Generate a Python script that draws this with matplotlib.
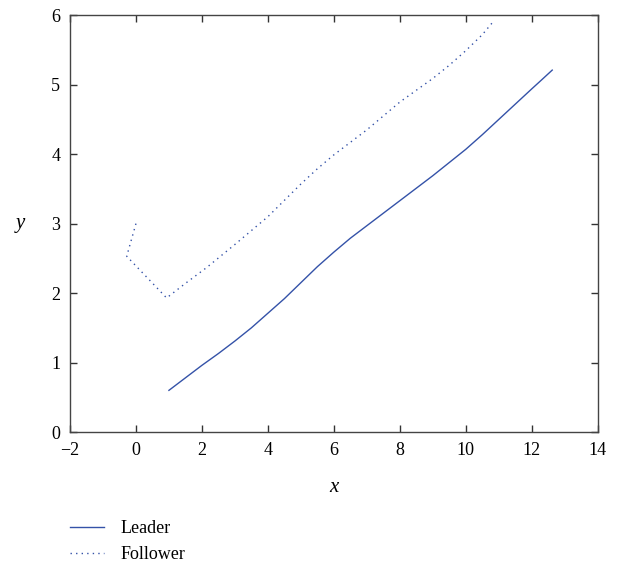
import matplotlib.pyplot as plt
import numpy as np

# Leader / follower trajectories
leader_x = [1.0, 1.5, 2.0, 2.5, 3.0, 3.5, 4.0, 4.5, 5.0, 5.5, 6.0, 6.5, 7.0, 7.5,
            8.0, 8.5, 9.0, 9.5, 10.0, 10.5, 11.0, 11.5, 12.0, 12.3, 12.62]
leader_y = [0.60, 0.78, 0.96, 1.13, 1.31, 1.50, 1.71, 1.92, 2.15, 2.38, 2.59, 2.79,
            2.97, 3.15, 3.33, 3.51, 3.69, 3.88, 4.07, 4.28, 4.50, 4.72, 4.94, 5.07, 5.21]

follower_x = [0.0, -0.28, 0.93, 1.5, 2.15, 3.0, 4.0, 5.0, 5.5, 6.0, 6.5, 7.0, 8.0,
              9.0, 9.5, 10.0, 10.5, 10.87]
follower_y = [3.00, 2.53, 1.93, 2.14, 2.37, 2.70, 3.10, 3.57, 3.79, 3.99, 4.17, 4.35,
              4.75, 5.09, 5.28, 5.49, 5.72, 5.93]

xticks = [-2, 0, 2, 4, 6, 8, 10, 12, 14]
yticks = [0, 1, 2, 3, 4, 5, 6]

plt.rcParams['font.family'] = ['Liberation Serif', 'DejaVu Serif']

blue = '#3452a8'

fig = plt.figure(figsize=(6.22, 5.64), dpi=100)
ax = fig.add_axes([0.1125, 0.234, 0.8485, 0.739])

ax.plot(leader_x, leader_y, color=blue, lw=1.0, label='Leader')
ax.plot(follower_x, follower_y, color=blue, lw=1.0, ls=(0, (1, 3)), label='Follower')

ax.set_xlim(-2, 14)
ax.set_ylim(0, 6)
ax.set_xticks(xticks)
ax.set_yticks(yticks)
ax.set_xticklabels([str(t).replace('-', '\u2212') for t in xticks])
ax.tick_params(direction='in', top=True, right=True, length=5, width=1,
               labelsize=13, color='#333333', pad=7)
for s in ax.spines.values():
    s.set_color('#444444')
    s.set_linewidth(1.0)

ax.set_xlabel('x', fontsize=15, style='italic', labelpad=14)
ax.set_ylabel('y', fontsize=15, style='italic', rotation=0, labelpad=22, va='center')

fig.legend(loc='upper left', bbox_to_anchor=(0.1125, 0.078), frameon=False,
           fontsize=13, handlelength=1.9, handletextpad=0.9, labelspacing=0.5,
           borderaxespad=0, borderpad=0)

fig.savefig('out.png', dpi=100)
